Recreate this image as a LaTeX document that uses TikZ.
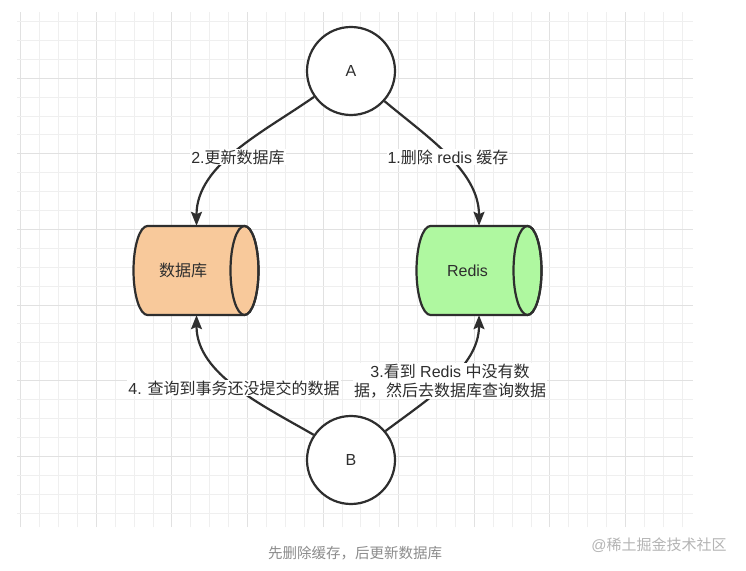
\documentclass[tikz,border=0pt]{standalone}
\usepackage{fontspec}
\setmainfont{Liberation Sans}
\newfontfamily\cjk{Noto Sans CJK SC}
\usetikzlibrary{arrows.meta}
\definecolor{dbfill}{HTML}{F8C99B}
\definecolor{rdfill}{HTML}{AFF8A0}
\definecolor{ink}{HTML}{2E2E2E}
\definecolor{gridminor}{HTML}{EFEFEF}
\definecolor{gridmajor}{HTML}{E1E1E1}
\definecolor{captiongray}{HTML}{8C8C8C}
\definecolor{markgray}{HTML}{B4B4B4}
\tikzset{
  txt/.style={text=ink, font=\fontsize{16}{19}\selectfont},
  circ/.style={circle, draw=ink, line width=2.2pt, fill=white, minimum size=88pt, inner sep=0pt, txt},
  cylbox/.style={rectangle, minimum width=125pt, minimum height=89pt, inner sep=0pt},
  cylline/.style={draw=ink, line width=2.2pt},
  edge/.style={draw=ink, line width=2.2pt, -{Stealth[length=14pt,width=11pt,inset=2.5pt]}},
  lbl/.style={txt, fill=white, inner sep=1pt, align=center},
}
\begin{document}
\begin{tikzpicture}[x=1pt,y=1pt]
\useasboundingbox (0,0) rectangle (746,570);
\fill[white] (0,0) rectangle (746,570);
% grid
\foreach \k in {0,...,35}{
  \pgfmathsetmacro{\xx}{20.7+18.9*\k}
  \pgfmathtruncatemacro{\m}{mod(\k,4)}
  \ifnum\m=0
    \draw[gridmajor, line width=1pt] (\xx,43) -- (\xx,558);
  \else
    \draw[gridminor, line width=1pt] (\xx,43) -- (\xx,558);
  \fi
}
\foreach \k in {0,...,26}{
  \pgfmathsetmacro{\yy}{548.4-18.9*\k}
  \pgfmathtruncatemacro{\m}{mod(\k,4)}
  \ifnum\m=3
    \draw[gridmajor, line width=1pt] (17,\yy) -- (693,\yy);
  \else
    \draw[gridminor, line width=1pt] (17,\yy) -- (693,\yy);
  \fi
}
% cylinders
\draw[cylline, fill=dbfill] (147.5,344) -- (244.5,344) arc[start angle=90, end angle=-90, x radius=14, y radius=44.5] -- (147.5,255) arc[start angle=270, end angle=90, x radius=14, y radius=44.5] -- cycle;
\draw[cylline] (244.5,299.5) ellipse[x radius=14, y radius=44.5];
\draw[cylline, fill=rdfill] (430.5,344) -- (527.5,344) arc[start angle=90, end angle=-90, x radius=14, y radius=44.5] -- (430.5,255) arc[start angle=270, end angle=90, x radius=14, y radius=44.5] -- cycle;
\draw[cylline] (527.5,299.5) ellipse[x radius=14, y radius=44.5];
\node[cylbox] (db) at (196.5,299.5) {};
\node[cylbox] (rd) at (479,299.5) {};
\node[txt] (dbtext) at (183,299.5) {\cjk 数据库};
\node[txt] (rdtext) at (467.5,299.5) {Redis};
% circles
\node[circ] (a) at (351,499) {A};
\node[circ] (b) at (351,110) {B};
% edges
\draw[edge] (a.215) to[out=215, in=90, looseness=0.9] (db.north);
\draw[edge] (a.318) to[out=320, in=90, looseness=0.9] (rd.north);
\draw[edge] (b.146) to[out=150, in=-90, looseness=0.9] (db.south);
\draw[edge] (b.40) to[out=37, in=-90, looseness=0.9] (rd.south);
% labels
\node[lbl] (l2) at (238,413) {2.{\cjk 更新数据库}};
\node[lbl] (l1) at (448,413) {1.{\cjk 删除} redis {\cjk 缓存}};
\node[lbl] (l4) at (234,182) {4. {\cjk 查询到事务还没提交的数据}};
\node[lbl] (l3) at (450,189) {3.{\cjk 看到} Redis {\cjk 中没有数}\\{\cjk 据，然后去数据库查询数据}};
% caption and mark
\node[text=captiongray, font=\fontsize{14.5}{17}\selectfont\cjk] (cap) at (355,17) {先删除缓存，后更新数据库};
\node[text=markgray, font=\fontsize{15}{18}\selectfont] (mark) at (659,25) {@{\cjk 稀土掘金技术社区}};
\end{tikzpicture}
\end{document}
